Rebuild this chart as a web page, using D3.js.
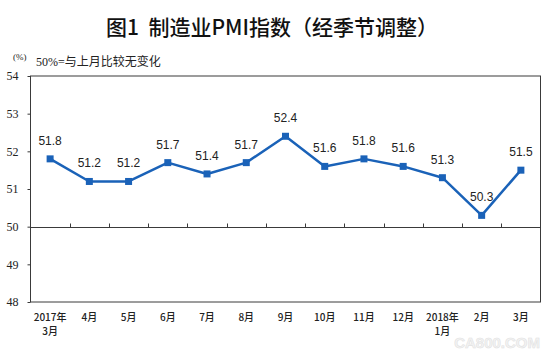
<!DOCTYPE html>
<html>
<head>
<meta charset="utf-8">
<script src="https://cdn.jsdelivr.net/npm/d3@7"></script>
<style>
  html, body { margin: 0; padding: 0; background: #fff; }
  svg { display: block; }
</style>
</head>
<body>
<script>
const categories = ["2017年\n3月", "4月", "5月", "6月", "7月", "8月", "9月", "10月", "11月", "12月", "2018年\n1月", "2月", "3月"];
const pmiValues = [51.8, 51.2, 51.2, 51.7, 51.4, 51.7, 52.4, 51.6, 51.8, 51.6, 51.3, 50.3, 51.5];
const yTicks = [48, 49, 50, 51, 52, 53, 54];
const titleText = "图1\u00a0\u00a0制造业PMI指数（经季节调整）";
const unitText = "(%)";
const noteText = "50%=与上月比较无变化";

const W = 549, H = 355;
const plot = { left: 30.5, right: 540.5, top: 76, bottom: 302 };
const lineColor = "#1A62B8";
const axisColor = "#3a3a3a";
const cjk = "'Noto Sans CJK SC', sans-serif";

const svg = d3.select("body").append("svg").attr("width", W).attr("height", H);

const x = d3.scaleBand().domain(categories).range([plot.left, plot.right]).padding(0);
const y = d3.scaleLinear().domain([48, 54]).range([plot.bottom, plot.top]);

// Title
svg.append("text")
  .attr("x", 272).attr("y", 35)
  .attr("text-anchor", "middle")
  .style("font-family", cjk).style("font-size", "21px").style("font-weight", "500")
  .style("fill", "#111")
  .text(titleText);

// Unit + note
svg.append("text").attr("x", 13).attr("y", 60)
  .style("font-family", "'Liberation Serif', " + cjk).style("font-size", "9px").style("fill", "#222")
  .text(unitText);
svg.append("text").attr("x", 36).attr("y", 66)
  .style("font-family", "'Liberation Serif', " + cjk).style("font-size", "12px").style("fill", "#222")
  .text(noteText);

// Plot frame
svg.append("rect")
  .attr("x", plot.left).attr("y", plot.top)
  .attr("width", plot.right - plot.left).attr("height", plot.bottom - plot.top)
  .attr("fill", "none").attr("stroke", axisColor).attr("stroke-width", 1);

// Y axis
const yAxis = svg.append("g")
  .attr("transform", `translate(${plot.left},0)`)
  .call(d3.axisLeft(y).tickValues(yTicks).tickSize(3).tickPadding(9).tickFormat(d3.format("d")));
yAxis.select(".domain").remove();
yAxis.selectAll(".tick line").attr("stroke", axisColor);
yAxis.selectAll(".tick text")
  .style("font-family", "'Liberation Serif', serif").style("font-size", "12px").style("fill", "#222");

// Category axis line at 50
const y50 = Math.round(y(50)) + 0.5;
svg.append("line")
  .attr("x1", plot.left).attr("x2", plot.right)
  .attr("y1", y50).attr("y2", y50)
  .attr("stroke", axisColor).attr("stroke-width", 1);

// Category tick marks at band boundaries (pointing up)
svg.append("g").selectAll("line")
  .data(categories.slice(1))
  .join("line")
  .attr("x1", d => Math.round(x(d)) + 0.5).attr("x2", d => Math.round(x(d)) + 0.5)
  .attr("y1", y50).attr("y2", y50 - 4)
  .attr("stroke", axisColor).attr("stroke-width", 1);

// Category labels
const catG = svg.append("g");
categories.forEach(c => {
  const lines = c.split("\n");
  const t = catG.append("text")
    .attr("x", x(c) + x.bandwidth() / 2)
    .attr("y", 321)
    .attr("text-anchor", "middle")
    .style("font-family", cjk).style("font-size", "10px").style("font-weight", "500").style("fill", "#222");
  lines.forEach((ln, i) => {
    t.append("tspan").attr("x", x(c) + x.bandwidth() / 2).attr("dy", i === 0 ? 0 : 14).text(ln);
  });
});

// Data line
const data = categories.map((c, i) => ({ c, v: pmiValues[i] }));
const cx = d => x(d.c) + x.bandwidth() / 2;
svg.append("path")
  .datum(data)
  .attr("fill", "none")
  .attr("stroke", lineColor)
  .attr("stroke-width", 2.5)
  .attr("stroke-linejoin", "round")
  .attr("d", d3.line().x(cx).y(d => y(d.v)));

// Markers
svg.append("g").selectAll("rect")
  .data(data)
  .join("rect")
  .attr("x", d => cx(d) - 3.5).attr("y", d => y(d.v) - 3.5)
  .attr("width", 7).attr("height", 7)
  .attr("fill", lineColor);

// Value labels
svg.append("g").selectAll("text")
  .data(data)
  .join("text")
  .attr("x", cx)
  .attr("y", d => y(d.v) - 14)
  .attr("text-anchor", "middle")
  .style("font-family", "'Liberation Sans', Arial, sans-serif").style("font-size", "12px").style("fill", "#222")
  .text(d => d.v.toFixed(1));

// Watermark
svg.append("text")
  .attr("x", 540).attr("y", 348)
  .attr("text-anchor", "end")
  .style("font-family", "'Liberation Sans', Arial, sans-serif").style("font-size", "15px").style("font-weight", "bold")
  .style("fill", "#f4f4f4").style("stroke", "#e2e2e2").style("stroke-width", 0.6)
  .text("CA800.COM");
</script>
</body>
</html>
